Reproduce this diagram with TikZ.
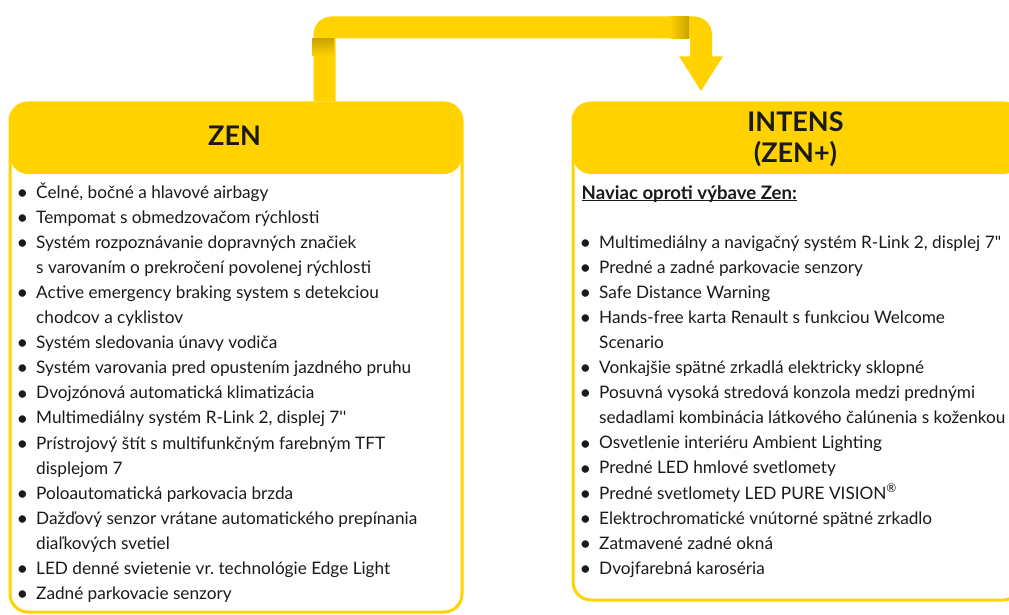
\documentclass[tikz,border=0pt]{standalone}
\usepackage{fontspec}
\setmainfont{Lato}[Ligatures=TeXOff]
\usetikzlibrary{arrows.meta}

\definecolor{renyellow}{HTML}{FFD200}
\definecolor{shadeyellow}{HTML}{C9A300}
\definecolor{ink}{HTML}{1A1A1A}

\newcommand\itm{\par\hangindent=17pt\hangafter=1\noindent
  \makebox[17pt][l]{\hspace{-2.5pt}\raisebox{-1.2pt}{\fontsize{20}{20}\selectfont\textbullet}}}
\newcommand\headline[1]{\sbox0{#1}\rlap{\rule[-2.2pt]{\wd0}{1.3pt}}\usebox0}
\newenvironment{featurelist}{\begin{minipage}[t]{445pt}\fontsize{17.2}{25.1}\selectfont}{\end{minipage}}

\begin{document}
\begin{tikzpicture}[x=1pt,y=-1pt,
  every node/.style={inner sep=0pt, text=ink},
  card/.style={draw=renyellow, line width=3pt, rounded corners=18pt, anchor=north west,
    path picture={\fill[renyellow] (path picture bounding box.north west)
      rectangle ([yshift=-71pt]path picture bounding box.north east);}},
  title/.style={font=\fontsize{27}{31}\selectfont\bfseries, align=center},
  items/.style={anchor=base west},
  flow/.style={draw=renyellow, line width=22pt, rounded corners=7pt,
    -{Triangle[width=41pt,length=35pt]}}
]
\path[use as bounding box, clip] (0,0) rectangle (1009,615);

% the two cards
\node[card, minimum width=452pt, minimum height=509pt] (zen) at (8.5,101.5) {};
\node[card, minimum width=448pt, minimum height=497pt] (intens) at (571.5,101.5) {};

\node[title] (zentitle) at (234.5,136) {ZEN};
\node[title, anchor=north] (intenstitle) at (795.5,111.5) {INTENS\\(ZEN+)};

\node[items] (zenlist) at (19,198) {\begin{featurelist}
\itm Čelné, bočné a hlavové airbagy
\itm Tempomat s obmedzovačom rýchlosti
\itm Systém rozpoznávanie dopravných značiek\newline s varovaním o prekročení povolenej rýchlosti
\itm Active emergency braking system s detekciou\newline chodcov a cyklistov
\itm Systém sledovania únavy vodiča
\itm Systém varovania pred opustením jazdného pruhu
\itm Dvojzónová automatická klimatizácia
\itm Multimediálny systém R-Link 2, displej 7''
\itm Prístrojový štít s multifunkčným farebným TFT\newline displejom 7
\itm Poloautomatická parkovacia brzda
\itm Dažďový senzor vrátane automatického prepínania\newline diaľkových svetiel
\itm LED denné svietenie vr.\ technológie Edge Light
\itm Zadné parkovacie senzory
\end{featurelist}};

\node[anchor=base west, font=\fontsize{18.6}{25}\selectfont\bfseries] (extra) at (581.5,199)
  {\headline{Naviac oproti výbave Zen:}};

\node[items] (intenslist) at (582,248) {\begin{featurelist}
\itm Multimediálny a navigačný systém R-Link 2, displej 7"
\itm Predné a zadné parkovacie senzory
\itm Safe Distance Warning
\itm Hands-free karta Renault s funkciou Welcome\newline Scenario
\itm Vonkajšie spätné zrkadlá elektricky sklopné
\itm Posuvná vysoká stredová konzola medzi prednými\newline sedadlami kombinácia látkového čalúnenia s koženkou
\itm Osvetlenie interiéru Ambient Lighting
\itm Predné LED hmlové svetlomety
\itm Predné svetlomety LED PURE VISION\textsuperscript{®}
\itm Elektrochromatické vnútorné spätné zrkadlo
\itm Zatmavené zadné okná
\itm Dvojfarebná karoséria
\end{featurelist}};

% connector from ZEN up and over to INTENS
\coordinate (rise) at ([xshift=88.5pt]zen.north);
\coordinate (drop) at ([xshift=-96pt,yshift=10pt]intens.north);
\coordinate (bar) at (0,27.5);
\draw[flow] (rise) -- (rise |- bar) -| (drop);
\shade[top color=shadeyellow, bottom color=renyellow] (312,38.5) rectangle (334,56);
\shade[left color=renyellow, right color=shadeyellow] (670,16.5) rectangle (689,38.5);
\end{tikzpicture}
\end{document}
